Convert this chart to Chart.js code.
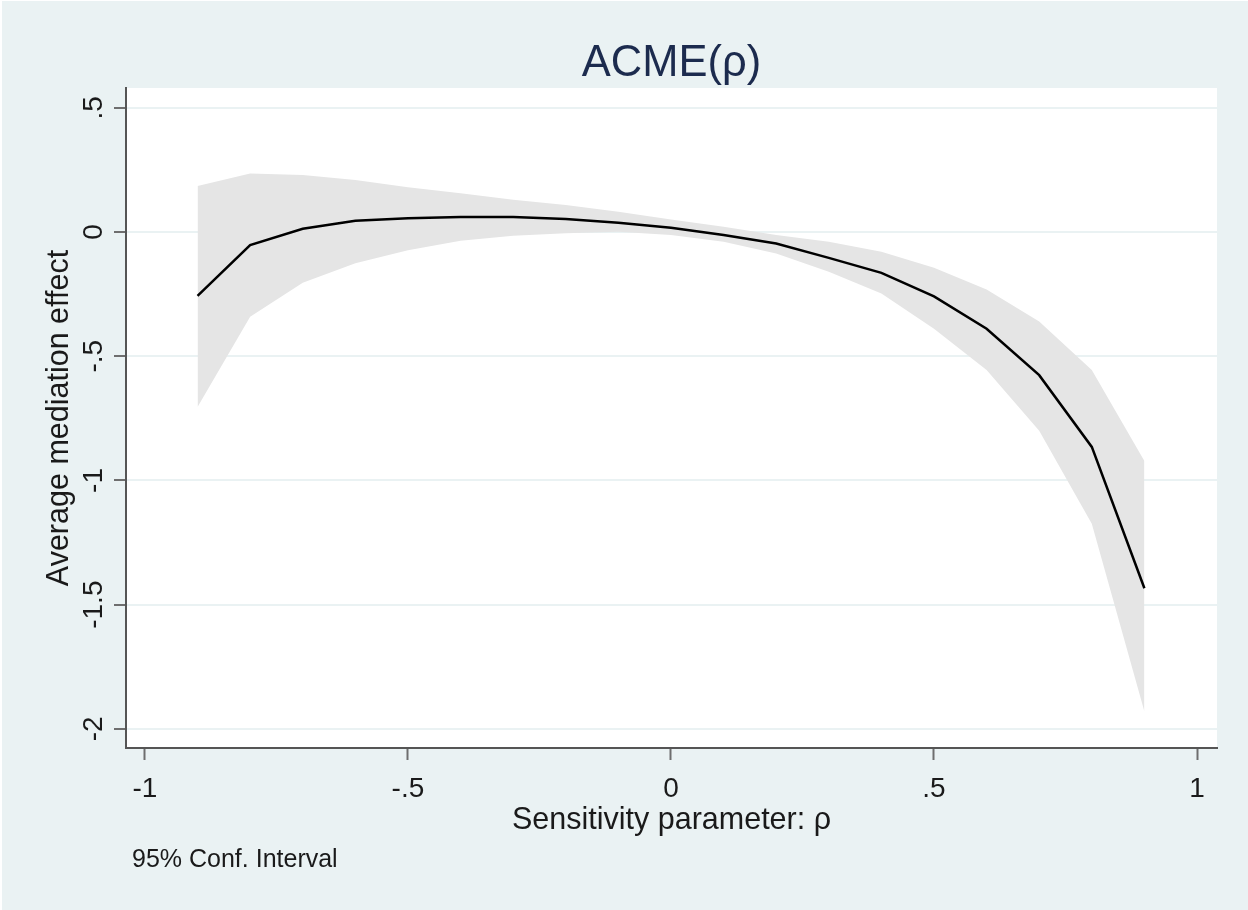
<!DOCTYPE html>
<html>
<head>
<meta charset="utf-8">
<script src="https://cdn.jsdelivr.net/npm/chart.js@4.4.1/dist/chart.umd.min.js"></script>
<style>
  html, body { margin: 0; padding: 0; background: #ffffff; }
  #wrap { width: 1248px; height: 910px; }
</style>
</head>
<body>
<div id="wrap"><canvas id="myChart" width="1248" height="910"></canvas></div>
<script>
// Valores (rho de -0.9 a 0.9)
const rho = [-0.9, -0.8, -0.7, -0.6, -0.5, -0.4, -0.3, -0.2, -0.1, 0, 0.1, 0.2, 0.3, 0.4, 0.5, 0.6, 0.7, 0.8, 0.9];
const acme = [-0.257, -0.052, 0.013, 0.046, 0.056, 0.061, 0.061, 0.053, 0.038, 0.017, -0.012, -0.046, -0.104, -0.164, -0.259, -0.389, -0.576, -0.865, -1.434];
const ciUpper = [0.185, 0.236, 0.230, 0.210, 0.180, 0.156, 0.130, 0.109, 0.082, 0.051, 0.021, -0.012, -0.039, -0.079, -0.144, -0.231, -0.360, -0.555, -0.922];
const ciLower = [-0.704, -0.341, -0.204, -0.126, -0.073, -0.035, -0.015, -0.005, 0.001, -0.012, -0.039, -0.086, -0.160, -0.247, -0.389, -0.555, -0.800, -1.174, -1.930];

// Marcas de los ejes
const xTicks = [-1, -0.5, 0, 0.5, 1];
const yTicks = [-2, -1.5, -1, -0.5, 0, 0.5];

const titleText = 'ACME(ρ)';
const xTitle = 'Sensitivity parameter: ρ';
const yTitle = 'Average mediation effect';
const noteText = '95% Conf. Interval';

const FONT = '"Liberation Sans", Arial, sans-serif';

// Etiquetas al estilo Stata: -.5, .5
function stataLabel(v) {
    if (v === 0) return '0';
    return String(v).replace('0.', '.');
}

const toPoints = ys => rho.map((r, i) => ({ x: r, y: ys[i] }));

// Fondo y textos (título, ejes, nota)
const stataPlugin = {
    id: 'stata',
    beforeDraw(chart) {
        const { ctx, chartArea: a } = chart;
        ctx.save();
        ctx.fillStyle = '#ffffff';
        ctx.fillRect(0, 0, chart.width, chart.height);
        ctx.fillStyle = '#eaf2f3';
        ctx.fillRect(2, 1, chart.width - 2, chart.height - 1);
        ctx.fillStyle = '#ffffff';
        ctx.fillRect(a.left, a.top, a.right - a.left, a.bottom - a.top);
        ctx.restore();
    },
    afterDraw(chart) {
        const ctx = chart.ctx;
        const a = chart.chartArea;
        const xs = chart.scales.x;
        const ys = chart.scales.y;
        ctx.save();
        ctx.fillStyle = '#1a1a1a';
        ctx.textAlign = 'center';
        ctx.textBaseline = 'alphabetic';

        ctx.font = '28px ' + FONT;
        xTicks.forEach(v => ctx.fillText(stataLabel(v), xs.getPixelForValue(v), 797));
        yTicks.forEach(v => {
            ctx.save();
            ctx.translate(102, ys.getPixelForValue(v));
            ctx.rotate(-Math.PI / 2);
            ctx.fillText(stataLabel(v), 0, 0);
            ctx.restore();
        });

        ctx.font = '30.5px ' + FONT;
        ctx.fillText(xTitle, (a.left + a.right) / 2, 829);
        ctx.save();
        ctx.translate(68, (a.top + a.bottom) / 2);
        ctx.rotate(-Math.PI / 2);
        ctx.fillText(yTitle, 0, 0);
        ctx.restore();

        ctx.fillStyle = '#1c2b4e';
        ctx.font = '43.5px ' + FONT;
        ctx.fillText(titleText, (a.left + a.right) / 2, 76);

        ctx.fillStyle = '#1a1a1a';
        ctx.textAlign = 'left';
        ctx.font = '25px ' + FONT;
        ctx.fillText(noteText, 132, 867);
        ctx.restore();
    }
};

const ctx = document.getElementById('myChart').getContext('2d');

const chart = new Chart(ctx, {
    type: 'line',
    data: {
        datasets: [
            {
                label: 'ACME',
                data: toPoints(acme),
                borderColor: '#000000',
                borderWidth: 2.5,
                pointRadius: 0,
                fill: false,
                tension: 0
            },
            {
                label: 'upper',
                data: toPoints(ciUpper),
                borderColor: 'rgba(0,0,0,0)',
                borderWidth: 0,
                backgroundColor: '#e5e5e5',
                pointRadius: 0,
                fill: '+1',
                tension: 0
            },
            {
                label: 'lower',
                data: toPoints(ciLower),
                borderColor: 'rgba(0,0,0,0)',
                borderWidth: 0,
                pointRadius: 0,
                fill: false,
                tension: 0
            }
        ]
    },
    options: {
        responsive: false,
        animation: false,
        events: [],
        layout: {
            padding: { top: 88, right: 31, left: 0, bottom: 0 }
        },
        scales: {
            x: {
                type: 'linear',
                min: -1.036,
                max: 1.038,
                afterBuildTicks: s => { s.ticks = xTicks.map(v => ({ value: v })); },
                afterFit: s => { s.height = 162; },
                ticks: { display: false },
                grid: {
                    drawOnChartArea: false,
                    drawTicks: true,
                    tickLength: 12,
                    tickWidth: 2,
                    tickColor: '#6e6e6e'
                },
                border: { display: true, color: '#555555', width: 2 }
            },
            y: {
                type: 'linear',
                min: -2.077,
                max: 0.58,
                afterBuildTicks: s => { s.ticks = yTicks.map(v => ({ value: v })); },
                afterFit: s => { s.width = 126; },
                ticks: { display: false },
                grid: {
                    color: '#eaf2f3',
                    lineWidth: 2,
                    drawTicks: true,
                    tickLength: 12,
                    tickWidth: 2,
                    tickColor: '#6e6e6e'
                },
                border: { display: true, color: '#555555', width: 2 }
            }
        },
        plugins: {
            legend: { display: false },
            tooltip: { enabled: false },
            title: { display: false }
        }
    },
    plugins: [stataPlugin]
});
</script>
</body>
</html>
